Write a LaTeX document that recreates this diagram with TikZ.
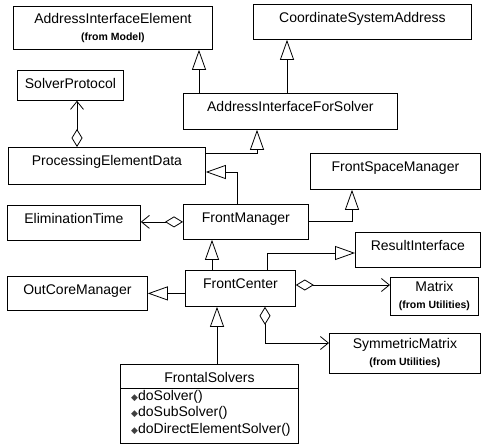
\documentclass[tikz,border=0pt]{standalone}
\usepackage{fontspec}
\setmainfont{Liberation Sans}
\newfontfamily\symfont{DejaVu Sans}
\usetikzlibrary{positioning}
\usetikzlibrary {arrows.meta}

\begin{document}
\begin{tikzpicture}[x=1pt,y=-1pt,
  cls/.style={draw,line width=.8pt,anchor=north west,inner sep=0pt,text height=18pt,font=\namefont},
  clsfrom/.style={draw,line width=.8pt,anchor=north west,inner sep=0pt,align=center,font=\namefont},
  gen/.style={line width=.8pt,-{Triangle[open,length=20pt,width=14pt]}},
  agg/.style={line width=.8pt,{Diamond[open,length=18pt,width=11pt]}-{Straight Barb[length=8pt,width=13pt]}}]

\def\namefont{\fontsize{14}{16}\selectfont}
\def\fromfont{\fontsize{10.5}{12}\selectfont\bfseries}
\def\opfont{\fontsize{14}{16.5}\selectfont}
\def\opicon{{\symfont\fontsize{9}{9}\selectfont\textcolor{black!75}{◆}}}

\useasboundingbox (0,0) rectangle (481,444);

\node[clsfrom,minimum width=199pt,minimum height=43pt](aie) at (13,6){AddressInterfaceElement\\[1pt]{\fromfont (from Model)}};
\node[cls,minimum width=218pt,minimum height=35pt,text depth=17pt](csa) at (253,4){CoordinateSystemAddress};
\node[cls,minimum width=106pt,minimum height=30pt,text depth=12pt](sp) at (17,70){SolverProtocol};
\node[cls,minimum width=214pt,minimum height=36pt,text depth=18pt](aifs) at (183,93){AddressInterfaceForSolver};
\node[cls,minimum width=197pt,minimum height=37pt,text depth=19pt](ped) at (8,147){ProcessingElementData};
\node[cls,minimum width=170pt,minimum height=36pt,text depth=18pt](fsm) at (310,153){FrontSpaceManager};

\node[cls,minimum width=125pt,minimum height=35pt,text depth=17pt](fm) at (183,204){FrontManager};
\node[cls,minimum width=133pt,minimum height=35pt,text depth=17pt](et) at (7,205){EliminationTime};
\node[cls,minimum width=125pt,minimum height=35pt,text depth=17pt](ri) at (355,232){ResultInterface};

\node[cls,minimum width=110pt,minimum height=36pt,text depth=18pt](fc) at (185,270){FrontCenter};
\node[cls,minimum width=140pt,minimum height=34pt,text depth=16pt](ocm) at (7,276){OutCoreManager};
\node[clsfrom,minimum width=88pt,minimum height=38pt](mtx) at (390,277){Matrix\\[1pt]{\fromfont (from Utilities)}};
\node[clsfrom,minimum width=151pt,minimum height=40pt](sm) at (329,333){SymmetricMatrix\\[1pt]{\fromfont (from Utilities)}};

\node[cls,minimum width=178pt,minimum height=79pt,text depth=61pt](fs) at (120,364){FrontalSolvers};
\draw[line width=.8pt] ([yshift=-24pt]fs.north west) -- ([yshift=-24pt]fs.north east);
\node[anchor=north west,inner sep=0pt,align=left,font=\opfont](fsops) at (131,390){\opicon doSolver()\\\opicon doSubSolver()\\\opicon doDirectElementSolver()};

% generalizations
\draw[gen] ([xshift=16pt]aifs.north west) -- ([xshift=16pt]aifs.north west |- aie.south);
\draw[gen] ([xshift=104pt]aifs.north west) -- ([xshift=104pt]aifs.north west |- csa.south);
\draw[gen] ([yshift=-6pt]ped.north east) -| ([xshift=74pt]aifs.south west);
\draw[gen] ([xshift=54pt]fm.north west) |- ([yshift=-25pt]ped.north east);
\draw[gen] ([yshift=-17pt]fm.north east) -| ([xshift=42pt]fsm.south west);
\draw[gen] ([xshift=27pt]fc.north west) -- ([xshift=27pt]fc.north west |- fm.south);
\draw[gen] ([xshift=82pt]fc.north west) |- ([yshift=-21pt]ri.north west);
\draw[gen] (ocm.east -| fc.west) -- (ocm.east);
\draw[gen] ([xshift=32pt]fc.south west |- fs.north) -- ([xshift=32pt]fc.south west);

% aggregations
\draw[agg] ([xshift=69pt]ped.north west) -- ([xshift=69pt]ped.north west |- sp.south);
\draw[agg] (fm.west) -- (fm.west -| et.east);
\draw[agg] ([yshift=-15pt]fc.north east) -- ([yshift=-15pt]fc.north east -| mtx.west);
\draw[agg] ([xshift=80pt]fc.south west) |- ([yshift=-10pt]sm.north west);
\end{tikzpicture}
\end{document}
